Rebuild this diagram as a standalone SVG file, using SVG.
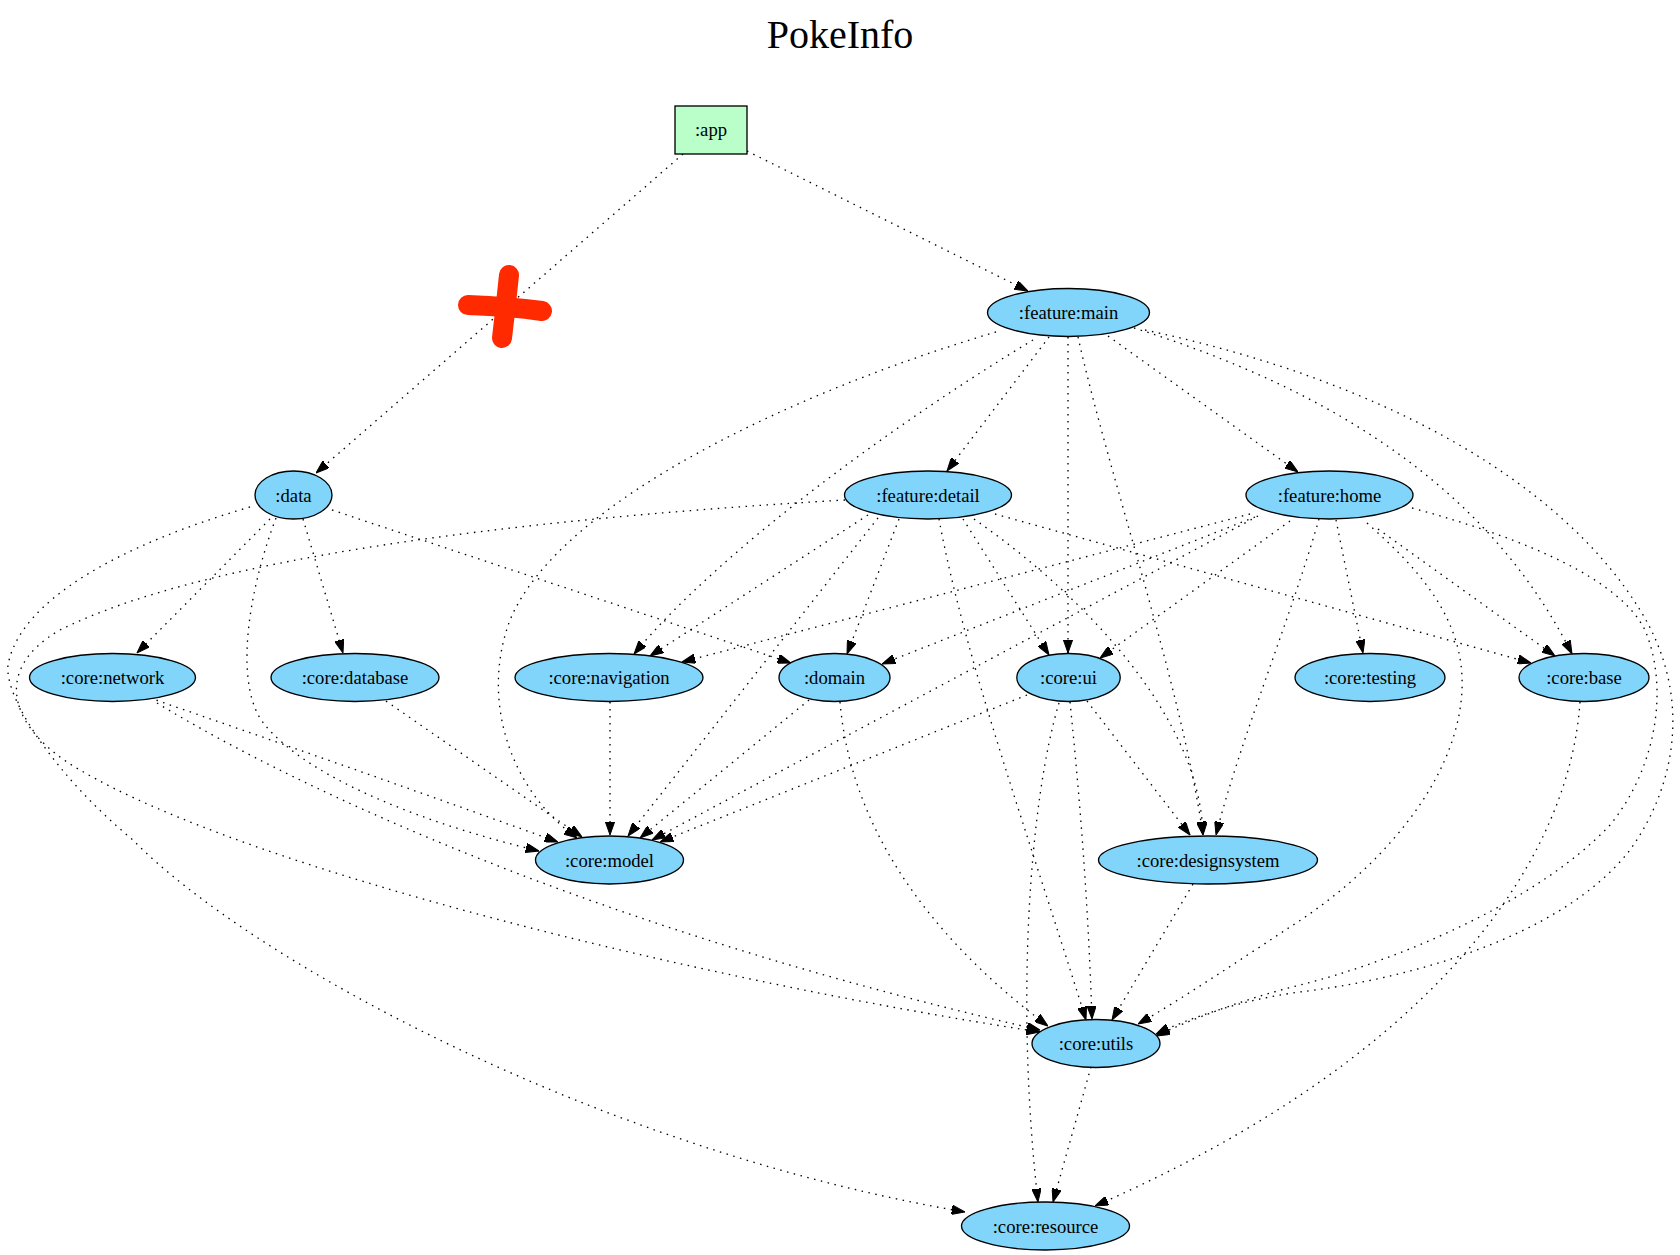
<svg xmlns="http://www.w3.org/2000/svg" width="1680" height="1255" viewBox="0 0 1680 1255">
<defs>
<style>
.bg{fill:#ffffff}
.title{font-family:"Liberation Serif","Times New Roman",serif;font-size:40px;fill:#000;text-anchor:middle}
.lbl{font-family:"Liberation Serif","Times New Roman",serif;font-size:18.67px;fill:#000;text-anchor:middle}
.mod{fill:#81d4fa;stroke:#000;stroke-width:1.33}
.appbox{fill:#baffc9;stroke:#000;stroke-width:1.33}
.edge{fill:none;stroke:#000;stroke-width:1.33;stroke-dasharray:1.5,5.5;marker-end:url(#arr)}
.cross{fill:none;stroke:#ff2a00;stroke-width:20;stroke-linecap:round;stroke-linejoin:round}
</style>
<marker id="arr" viewBox="0 0 13.3 9.4" refX="13.3" refY="4.7" markerWidth="13.3" markerHeight="9.4" markerUnits="userSpaceOnUse" orient="auto">
<path d="M0,0 L13.3,4.7 L0,9.4 Z" fill="#000" stroke="#000" stroke-width="1"/>
</marker>
</defs>
<rect class="bg" x="0" y="0" width="1680" height="1255"/>
<text class="title" x="840" y="48">PokeInfo</text>

<g id="connectors">
<path id="e-app-main" class="edge" d="M747,151 L1028,291"/>
<path id="e-app-data" class="edge" d="M683,154 L316,473"/>

<path id="e-main-detail" class="edge" d="M1049,337 Q1005,395 947,471"/>
<path id="e-main-home" class="edge" d="M1108,336 L1298,472"/>
<path id="e-main-ui" class="edge" d="M1068,337 L1068,653"/>
<path id="e-main-designsystem" class="edge" d="M1078,337 C1110,480 1180,680 1203,835"/>
<path id="e-main-base" class="edge" d="M1134,328 C1300,380 1480,470 1572,654"/>
<path id="e-main-utils" class="edge" d="M1145,330 C1380,380 1560,480 1640,610 C1690,690 1680,780 1630,850 C1560,940 1400,980 1300,992 C1240,1000 1190,1018 1156,1034"/>
<path id="e-main-model" class="edge" d="M996,332 C800,390 560,500 510,620 C480,700 510,790 577,838"/>
<path id="e-main-navigation" class="edge" d="M1033,340 C900,420 720,550 634,654"/>

<path id="e-data-network" class="edge" d="M270,519 L137,653"/>
<path id="e-data-database" class="edge" d="M303,519 L343,653"/>
<path id="e-data-domain" class="edge" d="M332,510 L791,663"/>
<path id="e-data-model" class="edge" d="M276,518 C245,600 235,690 265,725 C310,780 430,825 539,851"/>
<path id="e-data-resource" class="edge" d="M250,507 C120,545 20,600 8,665 C4,700 60,780 133,840 C250,960 600,1150 965,1212"/>

<path id="e-detail-navigation" class="edge" d="M868,515 L650,656"/>
<path id="e-detail-model" class="edge" d="M878,518 L628,836"/>
<path id="e-detail-domain" class="edge" d="M899,519 L847,654"/>
<path id="e-detail-ui" class="edge" d="M963,519 L1049,655"/>
<path id="e-detail-designsystem" class="edge" d="M974,519 C1090,600 1200,720 1203,835"/>
<path id="e-detail-base" class="edge" d="M995,514 L1531,663"/>
<path id="e-detail-utils" class="edge" d="M939,519 C965,660 1030,840 1086,1020"/>
<path id="e-detail-utils-2" class="edge" d="M845,500 C500,520 200,560 60,630 C-10,670 10,730 80,770 C250,870 700,980 1040,1032"/>

<path id="e-home-navigation" class="edge" d="M1250,514 L682,662"/>
<path id="e-home-domain" class="edge" d="M1255,517 L882,664"/>
<path id="e-home-model" class="edge" d="M1258,516 L652,840"/>
<path id="e-home-ui" class="edge" d="M1290,521 L1100,658"/>
<path id="e-home-designsystem" class="edge" d="M1319,519 C1290,620 1240,740 1216,835"/>
<path id="e-home-testing" class="edge" d="M1336,520 L1363,653"/>
<path id="e-home-base" class="edge" d="M1378,529 L1555,656"/>
<path id="e-home-utils" class="edge" d="M1367,523 C1420,570 1465,620 1462,690 C1458,780 1380,870 1290,927 C1240,960 1180,1000 1138,1024"/>
<path id="e-home-utils-2" class="edge" d="M1412,508 C1530,540 1620,580 1645,630 C1670,690 1655,770 1610,825 C1540,900 1400,960 1300,985 C1240,1000 1190,1020 1156,1036"/>

<path id="e-network-model" class="edge" d="M150,698 Q330,760 558,842"/>
<path id="e-network-utils" class="edge" d="M157,703 C300,790 600,930 1040,1030"/>
<path id="e-database-model" class="edge" d="M386,701 L582,837"/>
<path id="e-navigation-model" class="edge" d="M610,702 L610,835"/>
<path id="e-domain-model" class="edge" d="M809,700 L640,838"/>
<path id="e-domain-utils" class="edge" d="M840,702 C850,820 920,930 1048,1026"/>
<path id="e-ui-model" class="edge" d="M1027,695 L660,842"/>
<path id="e-ui-designsystem" class="edge" d="M1087,701 L1190,835"/>
<path id="e-ui-utils" class="edge" d="M1070,702 C1080,800 1088,900 1092,1019"/>
<path id="e-ui-resource" class="edge" d="M1059,703 C1030,800 1015,1000 1038,1202"/>
<path id="e-designsystem-utils" class="edge" d="M1193,884 L1112,1020"/>
<path id="e-utils-resource" class="edge" d="M1091,1067 L1053,1202"/>
<path id="e-base-resource" class="edge" d="M1580,702 C1570,850 1450,1050 1095,1206"/>
</g>

<g id="node-app"><rect class="appbox" x="675" y="106" width="72" height="48"/><text class="lbl" x="711" y="136">:app</text></g>
<g id="node-feature-main"><ellipse class="mod" cx="1068.5" cy="312.5" rx="81" ry="24"/><text class="lbl" x="1068.5" y="319">:feature:main</text></g>
<g id="node-data"><ellipse class="mod" cx="293.5" cy="495" rx="38.5" ry="24"/><text class="lbl" x="293.5" y="501.5">:data</text></g>
<g id="node-feature-detail"><ellipse class="mod" cx="928" cy="495" rx="83.5" ry="24"/><text class="lbl" x="928" y="501.5">:feature:detail</text></g>
<g id="node-feature-home"><ellipse class="mod" cx="1329.5" cy="495" rx="83.5" ry="24"/><text class="lbl" x="1329.5" y="501.5">:feature:home</text></g>
<g id="node-core-network"><ellipse class="mod" cx="112.5" cy="677.5" rx="83" ry="24"/><text class="lbl" x="112.5" y="684">:core:network</text></g>
<g id="node-core-database"><ellipse class="mod" cx="355" cy="677.5" rx="84" ry="24"/><text class="lbl" x="355" y="684">:core:database</text></g>
<g id="node-core-navigation"><ellipse class="mod" cx="609" cy="677.5" rx="94" ry="24"/><text class="lbl" x="609" y="684">:core:navigation</text></g>
<g id="node-domain"><ellipse class="mod" cx="834.5" cy="677.5" rx="55.5" ry="24"/><text class="lbl" x="834.5" y="684">:domain</text></g>
<g id="node-core-ui"><ellipse class="mod" cx="1068.5" cy="677.5" rx="51.7" ry="24"/><text class="lbl" x="1068.5" y="684">:core:ui</text></g>
<g id="node-core-testing"><ellipse class="mod" cx="1370" cy="677.5" rx="75" ry="24"/><text class="lbl" x="1370" y="684">:core:testing</text></g>
<g id="node-core-base"><ellipse class="mod" cx="1584" cy="677.5" rx="65" ry="24"/><text class="lbl" x="1584" y="684">:core:base</text></g>
<g id="node-core-model"><ellipse class="mod" cx="609.5" cy="860" rx="74" ry="24"/><text class="lbl" x="609.5" y="866.5">:core:model</text></g>
<g id="node-core-designsystem"><ellipse class="mod" cx="1208" cy="860" rx="109.5" ry="24"/><text class="lbl" x="1208" y="866.5">:core:designsystem</text></g>
<g id="node-core-utils"><ellipse class="mod" cx="1096" cy="1043.5" rx="64" ry="24"/><text class="lbl" x="1096" y="1050">:core:utils</text></g>
<g id="node-core-resource"><ellipse class="mod" cx="1045.5" cy="1226" rx="84" ry="24"/><text class="lbl" x="1045.5" y="1232.5">:core:resource</text></g>

<g id="cross-mark">
<path class="cross" d="M468,305 Q505,306 542,311"/>
<path class="cross" d="M509,275 Q506,305 502,338"/>
</g>
</svg>
